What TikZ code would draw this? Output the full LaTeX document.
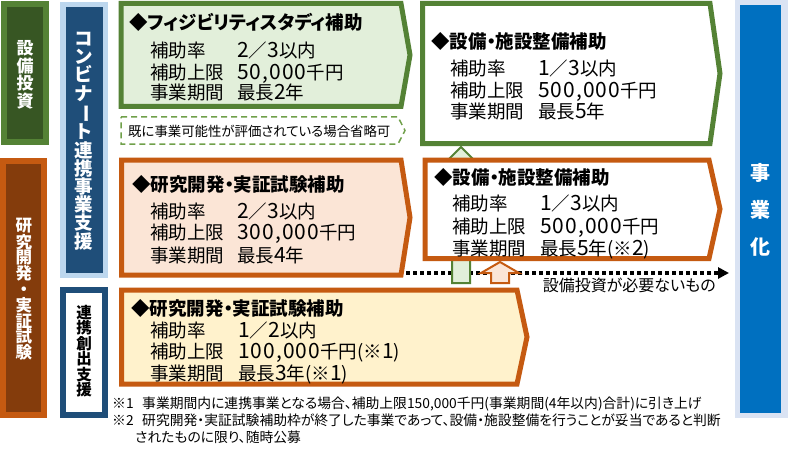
\documentclass[tikz,border=0pt]{standalone}
\usepackage{fontspec}
\usepackage{graphicx}
\setmainfont{Noto Sans CJK JP}[RawFeature=+palt]
\newfontfamily\vfont{Noto Sans CJK JP}
\usetikzlibrary{arrows.meta}
\definecolor{gborder}{HTML}{548235}
\definecolor{gfill}{HTML}{E2EFDA}
\definecolor{gdark}{HTML}{375623}
\definecolor{gdash}{HTML}{70A04A}
\definecolor{oborder}{HTML}{C55A11}
\definecolor{ofill}{HTML}{FBE5D6}
\definecolor{yfill}{HTML}{FFF2CC}
\definecolor{odark}{HTML}{843C0C}
\definecolor{bnavy}{HTML}{1F4E79}
\definecolor{blight}{HTML}{BDD7EE}
\definecolor{bblue}{HTML}{0070C0}
\definecolor{bpale}{HTML}{DAE3F3}
\newcommand\nm[1]{{\fontsize{21}{20}\selectfont\addfontfeature{LetterSpace=5}#1}}
\begin{document}
\begin{tikzpicture}[x=1pt,y=-1pt,line join=miter,
  mainbox/.style={line width=5pt},
  ttl/.style={anchor=base west,inner sep=0pt,font=\fontsize{18.5}{20}\selectfont\bfseries},
  lbl/.style={anchor=base west,inner sep=0pt,font=\fontsize{18.5}{20}\selectfont},
  vtxt/.style={align=center,inner sep=0pt},
  note/.style={anchor=base west,inner sep=0pt,font=\fontsize{13.8}{16}\selectfont},
  uparrow/.style={line width=2pt}]
\useasboundingbox (0,0) rectangle (788,452);
\fill[white] (0,0) rectangle (788,452);

% ---- left columns
\fill[gborder] (1,1) rectangle (49,145);
\fill[gdark] (7,7) rectangle (43,139);
\node[vtxt,text=white,font=\vfont\fontsize{17}{17.5}\selectfont\bfseries] (colA) at (25,75) {設\\備\\投\\資};

\fill[oborder] (0,158) rectangle (47,418);
\fill[odark] (6,164) rectangle (41,412);
\node[vtxt,text=white,font=\vfont\fontsize{16.5}{15.8}\selectfont\bfseries] (colB) at (24,289) {研\\究\\開\\発\\・\\実\\証\\試\\験};

\fill[blight] (60,2) rectangle (108,278);
\fill[bnavy] (66,7) rectangle (103,273);
\node[vtxt,text=white,font=\vfont\fontsize{18.5}{18.2}\selectfont\bfseries] (colC) at (84,141) {コ\\ン\\ビ\\ナ\\\rotatebox[origin=c]{-90}{ー}\\ト\\連\\携\\事\\業\\支\\援};

\draw[bnavy,line width=6pt,fill=white] (63,290) rectangle (105,415);
\node[vtxt,text=black,font=\vfont\fontsize{15.5}{15.5}\selectfont\bfseries] (colD) at (84,351) {連\\携\\創\\出\\支\\援};

\fill[bpale] (735,0) rectangle (788,418);
\fill[bblue] (740,5) rectangle (781,413);
\node[vtxt,text=white,font=\vfont\fontsize{20}{37}\selectfont\bfseries] (colE) at (760,210) {事\\業\\化};

% ---- dotted arrow (behind the small arrows)
\coordinate (dotS) at (406,273);
\coordinate (dotE) at (729,273);
\draw[line width=3.5pt,dash pattern=on 4pt off 3pt,-{Triangle[length=11pt,width=11pt]}] (dotS) -- (dotE);
\node[anchor=base east,inner sep=0pt,font=\fontsize{16}{18}\selectfont] (nolbl) at (716,291.2) {設備投資が必要ないもの};

% ---- green up arrow (behind orange box 2)
\draw[gborder,fill=gfill,uparrow] (452,283) -- (452,164) -- (444,164) -- (461,147) -- (478,164) -- (470,164) -- (470,283) -- cycle;

% ---- main boxes
\draw[gborder,fill=gfill,mainbox] (121,3.5) -- (401,3.5) -- (410,55) -- (401,106.5) -- (121,106.5) -- cycle;
\draw[gdash,line width=1.5pt,dash pattern=on 6pt off 4pt] (121,117) -- (398,117) -- (405,130.5) -- (398,144) -- (121,144) -- cycle;
\draw[gborder,fill=white,mainbox] (422.5,3.5) -- (710,3.5) -- (720,73.5) -- (710,143.5) -- (422.5,143.5) -- cycle;
\draw[oborder,fill=ofill,mainbox] (121.5,160) -- (401,160) -- (410,217.5) -- (401,275) -- (121.5,275) -- cycle;
\draw[oborder,fill=white,mainbox] (425,160) -- (709,160) -- (720,209) -- (709,258.5) -- (425,258.5) -- cycle;
\draw[oborder,fill=yfill,mainbox] (121.5,290) -- (517,290) -- (527,337) -- (517,384) -- (121.5,384) -- cycle;

% ---- orange up arrow
\draw[oborder,fill=ofill,uparrow] (491,283) -- (491,273) -- (481,273) -- (500,262) -- (519,273) -- (509,273) -- (509,283) -- cycle;

% ---- box texts: green 1
\node[ttl] (g1t) at (129,29.6) {◆フィジビリティスタディ補助};
\node[lbl] (g1a) at (150,57.1) {補助率};
\node[lbl] (g1av) at (237,57.1) {\nm{2}／\nm{3}以内};
\node[lbl] (g1b) at (150,79.1) {補助上限};
\node[lbl] (g1bv) at (237,79.1) {\nm{50,000}千円};
\node[lbl] (g1c) at (150,99.6) {事業期間};
\node[lbl] (g1cv) at (237,99.6) {最長\nm{2}年};
\node[anchor=base west,inner sep=0pt,font=\fontsize{13.4}{16}\selectfont] (dsh) at (128,136.4) {既に事業可能性が評価されている場合省略可};

% green 2
\node[ttl] (g2t) at (431,48.6) {◆設備・施設整備補助};
\node[lbl] (g2a) at (450,75.6) {補助率};
\node[lbl] (g2av) at (538,75.6) {\nm{1}／\nm{3}以内};
\node[lbl] (g2b) at (450,97.1) {補助上限};
\node[lbl] (g2bv) at (538,97.1) {\nm{500,000}千円};
\node[lbl] (g2c) at (450,118.1) {事業期間};
\node[lbl] (g2cv) at (538,118.1) {最長\nm{5}年};

% orange 1
\node[ttl] (o1t) at (132,191.1) {◆研究開発・実証試験補助};
\node[lbl] (o1a) at (150,218.1) {補助率};
\node[lbl] (o1av) at (237,218.1) {\nm{2}／\nm{3}以内};
\node[lbl] (o1b) at (150,239.6) {補助上限};
\node[lbl] (o1bv) at (237,239.6) {\nm{300,000}千円};
\node[lbl] (o1c) at (150,262.1) {事業期間};
\node[lbl] (o1cv) at (237,262.1) {最長\nm{4}年};

% orange 2
\node[ttl] (o2t) at (434,184.6) {◆設備・施設整備補助};
\node[lbl] (o2a) at (452,210.6) {補助率};
\node[lbl] (o2av) at (540,210.6) {\nm{1}／\nm{3}以内};
\node[lbl] (o2b) at (452,233.6) {補助上限};
\node[lbl] (o2bv) at (540,233.6) {\nm{500,000}千円};
\node[lbl] (o2c) at (452,255.6) {事業期間};
\node[lbl] (o2cv) at (540,255.6) {最長\nm{5}年(※\nm{2})};

% orange 3
\node[ttl] (o3t) at (131,315.6) {◆研究開発・実証試験補助};
\node[lbl] (o3a) at (150,337.1) {補助率};
\node[lbl] (o3av) at (238,337.1) {\nm{1}／\nm{2}以内};
\node[lbl] (o3b) at (150,358.6) {補助上限};
\node[lbl] (o3bv) at (238,358.6) {\nm{100,000}千円(※\nm{1})};
\node[lbl] (o3c) at (150,380.6) {事業期間};
\node[lbl] (o3cv) at (238,380.6) {最長\nm{3}年(※\nm{1})};

% ---- footnotes
\node[note] (f1m) at (112,408.4) {※1};
\node[note] (f1) at (142,408.4) {事業期間内に連携事業となる場合、補助上限150,000千円(事業期間(4年以内)合計)に引き上げ};
\node[note] (f2m) at (112,425.4) {※2};
\node[note] (f2) at (142,425.4) {研究開発・実証試験補助枠が終了した事業であって、設備・施設整備を行うことが妥当であると判断};
\node[note] (f3) at (135,442.4) {されたものに限り、随時公募};
\end{tikzpicture}
\end{document}
